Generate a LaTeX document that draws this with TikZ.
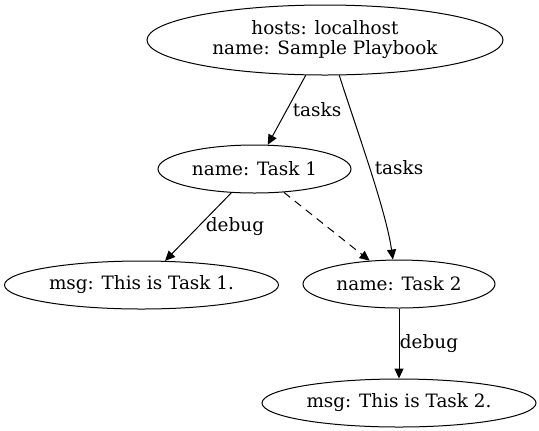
\documentclass[tikz,border=0pt]{standalone}
\usepackage{fontspec}
\setmainfont{DejaVu Serif}
\usetikzlibrary{arrows.meta,shapes.geometric}
\begin{document}
\begin{tikzpicture}[x=0.75pt,y=-0.75pt,
  every node/.style={font=\fontsize{13.8}{15}\selectfont},
  nd/.style={draw,ellipse,inner sep=0pt,line width=0.75pt,minimum height=36pt,align=center},
  lbl/.style={inner sep=0pt},
  edge/.style={line width=0.75pt,-{Triangle[length=7.5pt,width=6.8pt]}}]
\useasboundingbox (0,0) rectangle (539,430);
\node[nd,minimum width=267pt,minimum height=52.5pt] (top) at (325,40) {hosts: localhost\\name: Sample Playbook};
\node[nd,minimum width=144.75pt] (t1) at (254.5,169) {name: Task 1};
\node[nd,minimum width=144pt] (t2) at (399,284) {name: Task 2};
\node[nd,minimum width=205.5pt] (m1) at (141.5,285) {msg: This is Task 1.};
\node[nd,minimum width=205.5pt] (m2) at (399,403) {msg: This is Task 2.};
\draw[edge] (top) -- (t1);
\draw[edge] (top.-68) .. controls (355,125) and (386,210) .. (t2.104);
\draw[edge] (t1) -- (m1);
\draw[edge,dashed,dash pattern=on 6pt off 4.5pt] (t1) -- (t2);
\draw[edge] (t2) -- (m2);
\node[lbl] (l1) at (317,110) {tasks};
\node[lbl] (l2) at (399,168) {tasks};
\node[lbl] (l3) at (235,227) {debug};
\node[lbl] (l4) at (429,344) {debug};
\end{tikzpicture}
\end{document}
